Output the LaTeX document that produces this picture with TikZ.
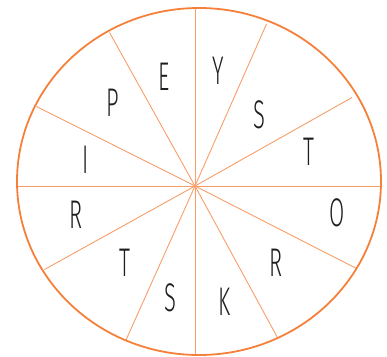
\documentclass[tikz,border=0pt]{standalone}
\usepackage{fontspec}
\setmainfont{Fira Sans Light}[FakeStretch=0.55]
\usepackage{tikz}
\usetikzlibrary{calc}

\definecolor{rimorange}{RGB}{245,128,58}
\definecolor{spokeorange}{RGB}{248,158,105}
\definecolor{lettergray}{RGB}{30,30,30}

\begin{document}
\begin{tikzpicture}[
    x=1pt, y=-1pt,
    letter/.style={text=lettergray, font=\fontsize{40}{40}\selectfont, inner sep=0pt}
]
    \useasboundingbox (0,0) rectangle (387,356);

    % 中心点
    \coordinate (hub) at (195,186);

    % 辐条
    \foreach \px/\py [count=\i] in {195/8, 266.5/24, 352/97.5, 381/186, 356.5/268.5, 278/338.5,
                                    195/355, 126/340, 44.5/269.5, 17/186, 36.5/106.5, 109.5/32.5}{
        \coordinate (rim\i) at (\px,\py);
        \draw[spokeorange, line width=0.9pt] (hub) -- (rim\i);
    }

    % 外圈
    \draw[rimorange, line width=1.8pt] (199,181.5) ellipse (182 and 173.5);

    % 字母
    \node[letter] (lE)  at (164,77)  {E};
    \node[letter] (lY)  at (218,71)  {Y};
    \node[letter] (lP)  at (113,103) {P};
    \node[letter] (lS)  at (259,115) {S};
    \node[letter] (lI)  at (86,160)  {I};
    \node[letter] (lT)  at (309,152) {T};
    \node[letter] (lR)  at (76,215)  {R};
    \node[letter] (lO)  at (337,213) {O};
    \node[letter] (lT2) at (125,263) {T};
    \node[letter] (lR2) at (276,263) {R};
    \node[letter] (lS2) at (170,298) {S};
    \node[letter] (lK)  at (225,302) {K};
\end{tikzpicture}
\end{document}
